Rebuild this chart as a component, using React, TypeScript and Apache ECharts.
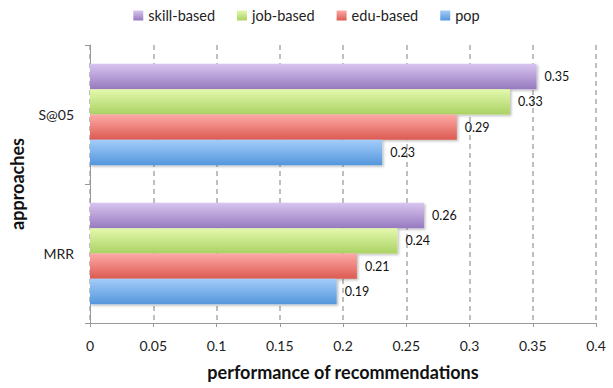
import React, { useEffect, useRef } from "react";
import * as echarts from "echarts";

const categories = ["MRR", "S@05"];
const legendOrder = ["skill-based", "job-based", "edu-based", "pop"];
const seriesNames = ["skill-based", "job-based", "edu-based", "pop"];
const popValues = [0.195, 0.231];
const eduValues = [0.211, 0.29];
const jobValues = [0.243, 0.332];
const skillValues = [0.264, 0.353];
const popLabels = ["0.19", "0.23"];
const eduLabels = ["0.21", "0.29"];
const jobLabels = ["0.24", "0.33"];
const skillLabels = ["0.26", "0.35"];
const xTicks = [0, 0.05, 0.1, 0.15, 0.2, 0.25, 0.3, 0.35, 0.4];

const FONT = "Lato, 'Open Sans', sans-serif";

function grad(top: string, bottom: string) {
  return new echarts.graphic.LinearGradient(0, 0, 0, 1, [
    { offset: 0, color: top },
    { offset: 1, color: bottom },
  ]);
}

const colors = [
  grad("#d8c5f0", "#977abf"),
  grad("#e4f9ae", "#abd263"),
  grad("#fdaaa8", "#dc5a4f"),
  grad("#a3cdf9", "#5496dc"),
];

const valueSets = [skillValues, jobValues, eduValues, popValues];
const labelSets = [skillLabels, jobLabels, eduLabels, popLabels];

export default function App() {
  const ref = useRef<HTMLDivElement>(null);
  useEffect(() => {
    if (!ref.current) return;
    const chart = echarts.init(ref.current, null, { renderer: "svg" });
    chart.setOption({
      animation: false,
      legend: {
        data: legendOrder,
        top: 3,
        left: "center",
        icon: "rect",
        itemWidth: 10,
        itemHeight: 10,
        itemGap: 22,
        textStyle: { fontFamily: FONT, fontSize: 14.5, color: "#222" },
      },
      grid: { left: 90, right: 17, top: 45, bottom: 65 },
      xAxis: {
        type: "value",
        min: 0,
        max: 0.4,
        interval: 0.05,
        name: "performance of recommendations",
        nameLocation: "middle",
        nameGap: 40,
        nameTextStyle: { fontFamily: FONT, fontSize: 18, fontWeight: "bold", color: "#111" },
        axisLine: { show: true, lineStyle: { color: "#999" } },
        axisTick: { show: true, length: 4, lineStyle: { color: "#999" } },
        axisLabel: {
          fontFamily: FONT,
          fontSize: 14,
          color: "#222",
          margin: 15,
          formatter: (v: number) => {
            const t = xTicks.find((x) => Math.abs(x - v) < 1e-9);
            return t === undefined ? "" : String(t);
          },
        },
        splitLine: { show: true, lineStyle: { color: "#aaa", type: [5, 4], width: 1.5 } },
      },
      yAxis: {
        type: "category",
        data: categories,
        name: "approaches",
        nameLocation: "middle",
        nameGap: 64,
        nameRotate: 90,
        nameTextStyle: { fontFamily: FONT, fontSize: 18, fontWeight: "bold", color: "#111" },
        axisLine: { show: true, lineStyle: { color: "#999" } },
        axisTick: { show: true, length: 5, lineStyle: { color: "#999" } },
        axisLabel: { fontFamily: FONT, fontSize: 14, color: "#222", margin: 16 },
      },
      series: seriesNames.map((name, i) => ({
        name,
        type: "bar",
        data: valueSets[i],
        barGap: "0%",
        barCategoryGap: "27%",
        itemStyle: {
          color: colors[i],
          shadowBlur: 2,
          shadowOffsetX: 1.5,
          shadowOffsetY: 1.5,
          shadowColor: "rgba(0,0,0,0.25)",
        },
        label: {
          show: true,
          position: "right",
          distance: 8,
          fontFamily: FONT,
          fontSize: 12.5,
          color: "#111",
          formatter: (p: any) => labelSets[i][p.dataIndex],
        },
      })),
    });
    return () => chart.dispose();
  }, []);
  return (
    <div
      ref={ref}
      style={{ position: "absolute", left: 0, top: 0, width: 613, height: 388 }}
    />
  );
}
